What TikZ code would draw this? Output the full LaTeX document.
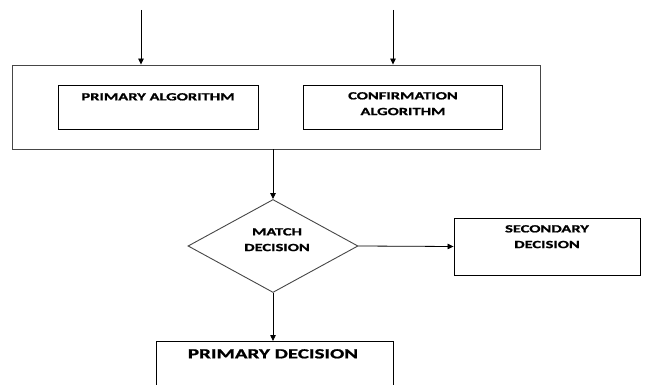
\documentclass[tikz,border=0pt]{standalone}
\usepackage{fontspec}
\newfontfamily\boxfont{Carlito}[FakeStretch=1.5, BoldFont={Carlito Bold}, BoldFeatures={FakeBold=1.2}]
\usetikzlibrary{arrows.meta,positioning,shapes.geometric}
\definecolor{frame}{RGB}{70,70,70}

\begin{document}
\begin{tikzpicture}[
  x=1pt, y=-1pt,
  every node/.style={font=\boxfont\bfseries\fontsize{11}{15.7}\selectfont},
  box/.style={draw=black, line width=0.9pt, inner sep=0pt},
  tag/.style={align=center, inner sep=0pt, anchor=north},
  flow/.style={draw=black, line width=0.8pt, -{Triangle[length=6pt,width=5.5pt]}}
]
\clip (0,0) rectangle (646,385);
% algorithm block
\node[box, draw=frame, minimum width=528pt, minimum height=84pt] (outer) at (276.5,107) {};
\node[box, minimum width=200pt, minimum height=44pt] (prim) at (158,107) {};
\node[box, minimum width=199pt, minimum height=44pt] (conf) at (403,107) {};
\node[tag] (primtxt) at (158,93) {PRIMARY ALGORITHM};
\node[tag] (conftxt) at (403,92) {CONFIRMATION\\ALGORITHM};
% decision part
\node[box, draw=frame, shape=diamond, minimum width=170pt, minimum height=93pt] (match) at (273,246) {};
\node[tag] (matchtxt) at (277,228) {MATCH\\DECISION};
\node[box, minimum width=186pt, minimum height=57pt] (sec) at (547,246.5) {};
\node[tag] (sectxt) at (547,225) {SECONDARY\\DECISION};
\node[box, minimum width=237pt, minimum height=60pt, anchor=north] (pdec) at (275,341) {};
\node[tag, font=\boxfont\bfseries\fontsize{14}{17}\selectfont] (pdectxt) at (273,349) {PRIMARY DECISION};
% inputs
\coordinate (in1) at (141,10);
\coordinate (in2) at (393,10);
\draw[flow] (in1) -- (in1 |- outer.north);
\draw[flow] (in2) -- (in2 |- outer.north);
\draw[flow] (match.north |- outer.south) -- (match.north);
\draw[flow] (match.east) -- (sec.west);
\draw[flow] (match.south) -- (match.south |- pdec.north);
\end{tikzpicture}
\end{document}
